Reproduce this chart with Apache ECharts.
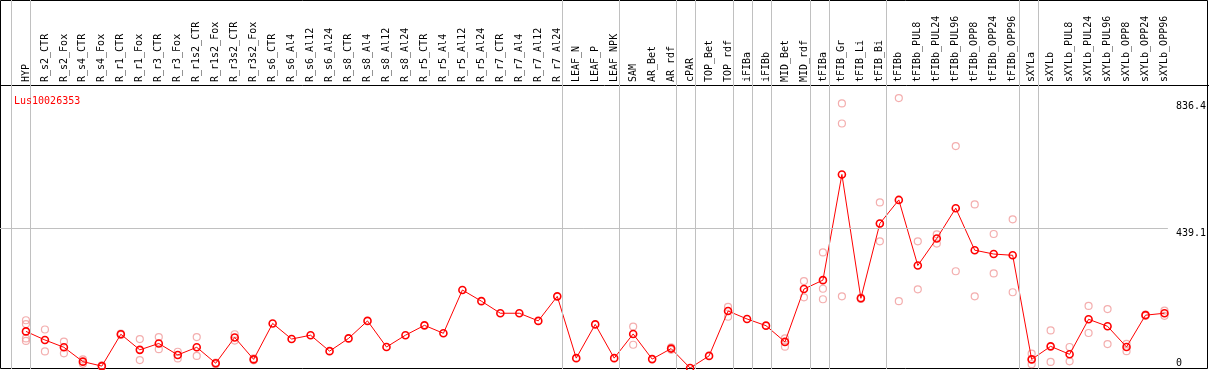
<!DOCTYPE html>
<html>
<head>
<meta charset="utf-8">
<script src="https://cdn.jsdelivr.net/npm/echarts@6/dist/echarts.min.js"></script>
<style>
  html, body { margin: 0; padding: 0; background: #fff; }
  #box { width: 1209px; height: 370px; }
</style>
</head>
<body>
<div id="box"></div>
<script>
var categories = ["HYP", "R_s2_CTR", "R_s2_Fox", "R_s4_CTR", "R_s4_Fox", "R_r1_CTR", "R_r1_Fox",
  "R_r3_CTR", "R_r3_Fox", "R_r1s2_CTR", "R_r1s2_Fox", "R_r3s2_CTR", "R_r3s2_Fox",
  "R_s6_CTR", "R_s6_Al4", "R_s6_Al12", "R_s6_Al24", "R_s8_CTR", "R_s8_Al4", "R_s8_Al12", "R_s8_Al24",
  "R_r5_CTR", "R_r5_Al4", "R_r5_Al12", "R_r5_Al24", "R_r7_CTR", "R_r7_Al4", "R_r7_Al12", "R_r7_Al24",
  "LEAF_N", "LEAF_P", "LEAF_NPK", "SAM", "AR_Bet", "AR_rdf", "cPAR", "TOP_Bet", "TOP_rdf",
  "iFIBa", "iFIBb", "MID_Bet", "MID_rdf", "tFIBa", "tFIB_Gr", "tFIB_Li", "tFIB_Bi",
  "tFIBb", "tFIBb_PUL8", "tFIBb_PUL24", "tFIBb_PUL96", "tFIBb_OPP8", "tFIBb_OPP24", "tFIBb_OPP96",
  "sXYLa", "sXYLb", "sXYLb_PUL8", "sXYLb_PUL24", "sXYLb_PUL96", "sXYLb_OPP8", "sXYLb_OPP24", "sXYLb_OPP96"];

// mean expression (red line)
var means = [115, 88, 65, 20, 6, 106, 57, 77, 41, 65, 15, 96, 27,
  140, 91, 103, 53, 93, 148, 66, 103, 134, 109, 245, 210, 172, 172, 148, 225,
  31, 137, 31, 107, 28, 61, 0, 38, 179, 154, 133, 82, 248, 276,
  608, 219, 454, 528, 322, 407, 502, 370, 358, 354,
  27, 68, 43, 153, 131, 66, 166, 172];

// replicates (light circles), one list per category
var replicates = [[150, 138, 93, 85], [121, 52], [83, 46], [27, 13], [8, 4], [108, 104], [91, 25],
  [97, 59], [51, 30], [97, 38], [17, 12], [106, 86], [30, 24],
  [], [], [], [], [], [], [], [], [], [], [], [], [], [], [], [],
  [], [], [], [130, 73], [], [65, 57], [], [], [192, 161],
  [], [], [93, 67], [273, 222], [363, 249, 216], [831, 768, 225], [221, 217], [520, 398, 454],
  [848, 210], [398, 247], [420, 391], [697, 304], [514, 225], [421, 297], [467, 238],
  [45, 12, 27], [118, 19], [66, 21], [195, 110], [185, 75], [76, 53], [168, 164], [180, 164]];

// last category index of each group (-1 = left edge)
var groupEnds = [-1, 0, 28, 31, 34, 35, 37, 38, 39, 41, 42, 45, 52, 53, 60];
var yTicks = [836.4, 439.1];
var geneName = "Lus10026353";

var font = "DejaVu Sans Mono";
var xMin = -1.368, xMax = 60.18;

var chart = echarts.init(document.getElementById("box"));

var repData = [];
replicates.forEach(function (list, i) {
  list.forEach(function (v) { repData.push([i, v]); });
});

var option = {
  animation: false,
  backgroundColor: "#fff",
  title: {
    text: geneName,
    left: 9,
    top: 91,
    textStyle: { color: "#ff0000", fontFamily: font, fontSize: 10, fontWeight: "normal" }
  },
  grid: [
    { left: 0, right: 39, top: 0, bottom: 1 },
    { left: 0, right: 39, top: 85, bottom: 2 }
  ],
  xAxis: [
    { type: "value", gridIndex: 0, min: xMin, max: xMax, show: false },
    {
      type: "value", gridIndex: 1, min: xMin, max: xMax, position: "top",
      axisLine: { show: false }, axisTick: { show: false }, splitLine: { show: false },
      axisLabel: {
        customValues: categories.map(function (c, i) { return i; }),
        rotate: 90, margin: 3, color: "#000", fontFamily: font, fontSize: 10,
        formatter: function (v) { return categories[Math.round(v)]; }
      }
    }
  ],
  yAxis: [
    { type: "value", gridIndex: 0, min: 0, max: 1, show: false },
    {
      type: "value", gridIndex: 1, min: 0, max: 889, position: "right",
      axisLine: { show: false }, axisTick: { show: false }, splitLine: { show: false },
      axisLabel: {
        customValues: yTicks, margin: 8, verticalAlign: "top",
        color: "#000", fontFamily: font, fontSize: 10,
        formatter: function (v) { return String(v); }
      }
    },
    {
      type: "value", gridIndex: 1, min: 0, max: 889, position: "right",
      axisLine: { show: false }, axisTick: { show: false }, splitLine: { show: false },
      axisLabel: {
        customValues: [0], margin: 8, verticalAlign: "bottom",
        color: "#000", fontFamily: font, fontSize: 10,
        formatter: function (v) { return String(v); }
      }
    }
  ],
  series: [
    {
      type: "line", xAxisIndex: 0, yAxisIndex: 0, data: [], silent: true,
      markLine: {
        silent: true, symbol: "none", animation: false,
        label: { show: false },
        lineStyle: { color: "#c0c0c0", width: 1, type: "solid" },
        data: groupEnds.map(function (g) { return { xAxis: g + 0.23 }; })
      }
    },
    {
      type: "scatter", xAxisIndex: 1, yAxisIndex: 1, data: repData,
      symbol: "circle", symbolSize: 7,
      itemStyle: { color: "transparent", borderColor: "#f09a9a", borderWidth: 1.2 },
      markLine: {
        silent: true, symbol: "none", animation: false,
        label: { show: false },
        lineStyle: { color: "#c0c0c0", width: 1, type: "solid" },
        data: [{ yAxis: yTicks[1] }]
      }
    },
    {
      type: "line", xAxisIndex: 1, yAxisIndex: 1,
      data: means.map(function (v, i) { return [i, v]; }),
      symbol: "circle", symbolSize: 7, showAllSymbol: true,
      lineStyle: { color: "#ff0000", width: 1 },
      itemStyle: { color: "transparent", borderColor: "#ff0000", borderWidth: 1.6 }
    }
  ],
  graphic: [
    { type: "line", silent: true, shape: { x1: 0, y1: 85.5, x2: 1209, y2: 85.5 }, style: { stroke: "#000", lineWidth: 1 } },
    { type: "rect", silent: true, shape: { x: 0.5, y: 0.5, width: 1207, height: 368 }, style: { fill: "none", stroke: "#000", lineWidth: 1 } }
  ]
};
chart.setOption(option);
</script>
</body>
</html>
